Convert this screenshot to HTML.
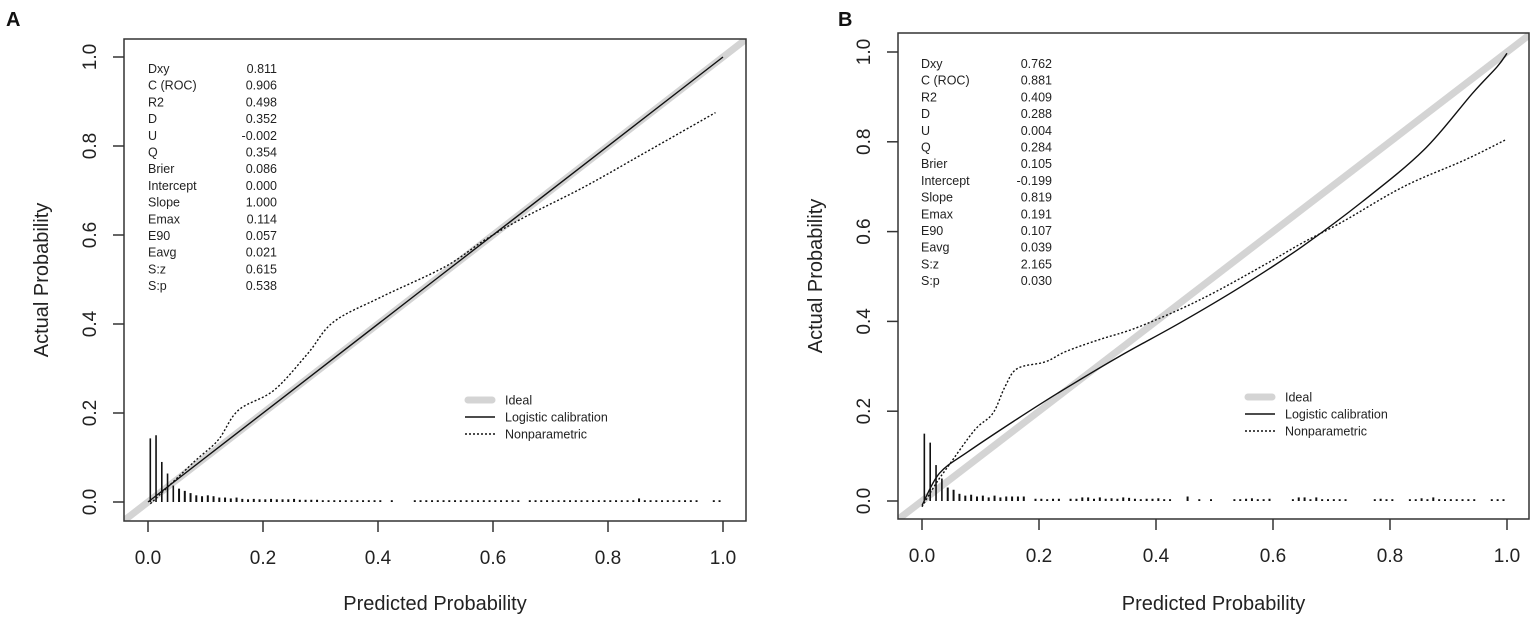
<!DOCTYPE html>
<html><head><meta charset="utf-8">
<style>
body{margin:0;background:#fff;}
svg{display:block;font-family:"Liberation Sans",Arial,sans-serif;}
</style></head>
<body>
<svg id="chart" width="1535" height="621" viewBox="0 0 1535 621" xmlns="http://www.w3.org/2000/svg"></svg>
<script>
// ---- Panel A data ----
const npA_x = [0.004,0.08,0.122,0.157,0.219,0.278,0.323,0.406,0.517,0.586,0.656,0.76,0.863,0.987];
const npA_y = [-0.004,0.09,0.139,0.206,0.251,0.334,0.405,0.461,0.529,0.589,0.641,0.709,0.784,0.875];
const logA_x = [0.0,0.25,0.5,0.75,1.0];
const logA_y = [0.0,0.25,0.5,0.75,1.0];
const histA = [.143,.15,.09,.064,.037,.03,.025,.02,.015,.013,
 .015,.013,.01,.01,.008,.01,.007,.006,.007,.006,
 .006,.007,.006,.006,.006,.007,.005,.005,.005,.005,
 .004,.004,.004,.004,.004,.004,.004,.004,.004,.004,
 .004,0,.004,0,0,0,.004,.004,.004,.004,
 .004,.004,.004,.004,.004,.004,.004,.004,.004,.004,
 .004,.004,.004,.004,.004,0,.004,.004,.004,.004,
 .004,.004,.004,.004,.004,.004,.004,.004,.004,.004,
 .004,.004,.004,.004,.004,.008,.004,.004,.004,.004,
 .004,.004,.004,.004,.004,.004,0,0,.004,.004];
const statLabels = ["Dxy","C (ROC)","R2","D","U","Q","Brier","Intercept","Slope","Emax","E90","Eavg","S:z","S:p"];
const statsA = ["0.811","0.906","0.498","0.352","-0.002","0.354","0.086","0.000","1.000","0.114","0.057","0.021","0.615","0.538"];
// ---- Panel B data ----
const npB_x = [0.0,0.024,0.044,0.09,0.121,0.142,0.163,0.211,0.246,0.302,0.371,0.475,0.58,0.649,0.719,0.823,0.927,0.997];
const npB_y = [-0.013,0.039,0.076,0.158,0.195,0.255,0.295,0.31,0.333,0.359,0.388,0.448,0.522,0.574,0.622,0.7,0.759,0.804];
const logB_x = [0.0,0.03,0.079,0.156,0.232,0.336,0.44,0.545,0.649,0.753,0.858,0.941,0.983,1.0];
const logB_y = [-0.01,0.062,0.11,0.177,0.24,0.321,0.396,0.477,0.566,0.667,0.782,0.908,0.967,0.997];
const histB = [.15,.13,.08,.05,.03,.025,.016,.012,.014,.01,
 .012,.008,.012,.008,.01,.01,.01,.01,0,.005,
 .005,.004,.005,.005,0,.005,.005,.008,.008,.005,
 .008,.005,.006,.005,.008,.007,.005,.004,.005,.005,
 .006,.004,.004,0,0,.01,0,.004,0,.004,
 0,0,0,.004,.004,.005,.006,.004,.004,.005,
 0,0,0,.004,.008,.008,.004,.008,.004,.004,
 .004,.004,.004,0,0,0,0,.004,.005,.004,
 .004,0,0,.004,.004,.006,.004,.008,.004,.004,
 .004,.004,.004,.004,.004,0,0,.004,.004,.004];
const statsB = ["0.762","0.881","0.409","0.288","0.004","0.284","0.105","-0.199","0.819","0.191","0.107","0.039","2.165","0.030"];
const ticks = [0,0.2,0.4,0.6,0.8,1.0];
const tickLabels = ["0.0","0.2","0.4","0.6","0.8","1.0"];
const legendLabels = ["Ideal","Logistic calibration","Nonparametric"];

const NS="http://www.w3.org/2000/svg";
const svg=document.getElementById('chart');
function mk(tag,attrs,parent){const e=document.createElementNS(NS,tag);for(const k in attrs)e.setAttribute(k,attrs[k]);(parent||svg).appendChild(e);return e;}
function smooth(pts){
  let d='M'+pts[0][0].toFixed(1)+','+pts[0][1].toFixed(1);
  for(let i=0;i<pts.length-1;i++){
    const p0=pts[i-1]||pts[i],p1=pts[i],p2=pts[i+1],p3=pts[i+2]||p2;
    const c1=[p1[0]+(p2[0]-p0[0])/6,p1[1]+(p2[1]-p0[1])/6];
    const c2=[p2[0]-(p3[0]-p1[0])/6,p2[1]-(p3[1]-p1[1])/6];
    d+=' C'+c1.map(v=>v.toFixed(1)).join(',')+' '+c2.map(v=>v.toFixed(1)).join(',')+' '+p2.map(v=>v.toFixed(1)).join(',');
  }
  return d;
}

function panel(cfg){
  const g=mk('g',{});
  
  
  const sx=v=>cfg.x0+v*(cfg.x1-cfg.x0);
  const sy=v=>cfg.y0-v*(cfg.y0-cfg.y1);
  const clipId='clip'+cfg.id;
  const cp=mk('clipPath',{id:clipId},g);
  mk('rect',{x:cfg.L,y:cfg.T,width:cfg.R-cfg.L,height:cfg.B-cfg.T},cp);
  const plot=mk('g',{'clip-path':'url(#'+clipId+')'},g);
  const ideal=mk('line',{x1:sx(-0.2),y1:sy(-0.2),x2:sx(1.2),y2:sy(1.2),stroke:'#d4d4d4','stroke-width':7},plot);
  
  
  cfg.hist.forEach((h,i)=>{
    if(h<=0)return;
    const x=sx((i+0.4)/100);
    const b=mk('line',{x1:x,x2:x,y1:sy(0),y2:sy(h),stroke:'#111','stroke-width':h>0.03?1.6:2},plot);
    
    
  });
  const lpts=cfg.lx.map((v,i)=>[sx(v),sy(cfg.ly[i])]);
  const lg=mk('path',{d:smooth(lpts),fill:'none',stroke:'#111','stroke-width':1.4},plot);
  
  
  const npts=cfg.nx.map((v,i)=>[sx(v),sy(cfg.ny[i])]);
  const nl=mk('path',{d:smooth(npts),fill:'none',stroke:'#111','stroke-width':1.4,'stroke-dasharray':'2,2'},plot);
  
  
  const box=mk('rect',{x:cfg.L,y:cfg.T,width:cfg.R-cfg.L,height:cfg.B-cfg.T,fill:'none',stroke:'#333','stroke-width':1.5},g);
  
  
  ticks.forEach((t,i)=>{
    mk('line',{x1:sx(t),x2:sx(t),y1:cfg.B,y2:cfg.B+11,stroke:'#333','stroke-width':1.5},g);
    const tl=mk('text',{x:sx(t),y:cfg.B+43,'text-anchor':'middle','font-size':19,fill:'#222'},g);
    tl.textContent=tickLabels[i];
    
    
    mk('line',{x1:cfg.L,x2:cfg.L-11,y1:sy(t),y2:sy(t),stroke:'#333','stroke-width':1.5},g);
    const yl=mk('text',{x:0,y:0,'text-anchor':'middle','font-size':19,fill:'#222',transform:`translate(${cfg.L-28},${sy(t)}) rotate(-90)`},g);
    yl.textContent=tickLabels[i];
    
    
  });
  const xt=mk('text',{x:(cfg.L+cfg.R)/2,y:610,'text-anchor':'middle','font-size':20,fill:'#222'},g);
  xt.textContent='Predicted Probability';
  
  
  const yt=mk('text',{x:0,y:0,'text-anchor':'middle','font-size':20,fill:'#222',transform:`translate(${cfg.L-76},${(cfg.T+cfg.B)/2}) rotate(-90)`},g);
  yt.textContent='Actual Probability';
  
  
  statLabels.forEach((s,i)=>{
    const y=cfg.statY+i*16.7;
    const a=mk('text',{x:cfg.statLX,y:y,'font-size':12.5,fill:'#222'},g);
    a.textContent=s;
    
    
    const b=mk('text',{x:cfg.statRX,y:y,'font-size':12.5,fill:'#222','text-anchor':'end'},g);
    b.textContent=cfg.stats[i];
    
    
  });
  const lgG=mk('g',{},g);
  
  
  legendLabels.forEach((s,i)=>{
    const y=cfg.legY+i*17;
    if(i===0) mk('line',{x1:cfg.legX+3,x2:cfg.legX+27,y1:y,y2:y,stroke:'#d4d4d4','stroke-width':7,'stroke-linecap':'round'},lgG);
    else mk('line',{x1:cfg.legX,x2:cfg.legX+30,y1:y,y2:y,stroke:'#111','stroke-width':1.4,'stroke-dasharray':i===2?'2,2':'none'},lgG);
    const t=mk('text',{x:cfg.legX+40,y:y+4.5,'font-size':12.5,fill:'#222'},lgG);
    t.textContent=s;
    
    
  });
  const lab=mk('text',{x:cfg.labX,y:26,'font-size':20,'font-weight':'bold',fill:'#111'},g);
  lab.textContent=cfg.id;
  
  
}
panel({id:'A',L:124,R:746,T:39,B:521,x0:148,x1:723,y0:502,y1:57,hist:histA,lx:logA_x,ly:logA_y,nx:npA_x,ny:npA_y,
  stats:statsA,statLX:148,statRX:277,statY:73,legX:465,legY:400,labX:6});
panel({id:'B',L:898,R:1529,T:33,B:519,x0:922,x1:1507,y0:501,y1:52,hist:histB,lx:logB_x,ly:logB_y,nx:npB_x,ny:npB_y,
  stats:statsB,statLX:921,statRX:1052,statY:68,legX:1245,legY:397,labX:838});
</script>
</body></html>
